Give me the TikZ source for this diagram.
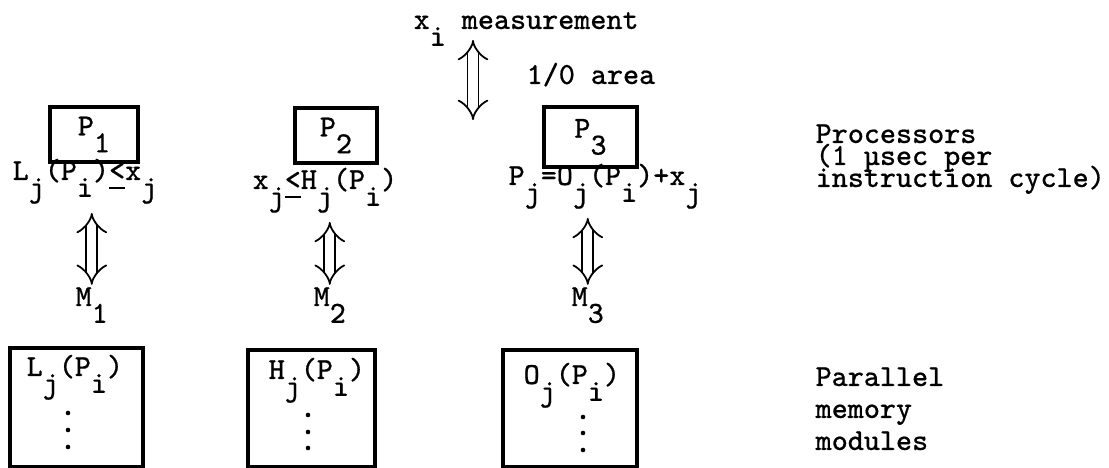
\documentclass[tikz,border=0pt]{standalone}
\usepackage{fontspec}
\setmonofont{Latin Modern Mono}[FakeBold=0.6]
\usetikzlibrary{arrows.meta}

\newcommand{\lowsub}[1]{\raisebox{-0.55em}{#1}}
\newcommand{\typedle}{\makebox[0pt][l]{\raisebox{-0.3em}{\rule{0.525em}{0.6pt}}}<}

\begin{document}
\begin{tikzpicture}[x=0.01cm, y=-0.01cm,
    every node/.style={inner sep=0pt, font=\ttfamily\fontsize{8.7}{10}\selectfont},
    typed/.style={anchor=base west},
    boxed/.style={draw, line width=0.9pt},
    dblarrow/.style={double, double distance=2.6pt, line width=0.5pt, {Implies}-{Implies}}]

    \useasboundingbox (0,0) rectangle (1109,468);

    % Measurement and I/O area
    \node[typed] (meas) at (413,29) {x\lowsub{i} measurement};
    \node[typed] (ioarea) at (526,84) {1/0 area};
    \coordinate (iotop) at (473,40);
    \coordinate (iobot) at (473,120);
    \draw[dblarrow] (iotop) -- (iobot);

    % Processors
    \node[boxed, minimum width=0.88cm, minimum height=0.55cm] (p1) at (94,134.5) {P\lowsub{1}};
    \node[boxed, minimum width=0.82cm, minimum height=0.55cm] (p2) at (336,135.5) {P\lowsub{2}};
    \node[boxed, minimum width=0.93cm, minimum height=0.60cm] (p3) at (590.5,137) {P\lowsub{3}};

    % What each processor computes
    \node[typed] (f1) at (12,180) {L\lowsub{j}(P\lowsub{i})\typedle x\lowsub{j}};
    \node[typed] (f2) at (252,189) {x\lowsub{j}\typedle H\lowsub{j}(P\lowsub{i})};
    \node[typed] (f3) at (508,185) {P\lowsub{j}=O\lowsub{j}(P\lowsub{i})+x\lowsub{j}};

    % Memory labels
    \node[typed] (m1) at (75,306) {M\lowsub{1}};
    \node[typed] (m2) at (313,306) {M\lowsub{2}};
    \node[typed] (m3) at (571,306) {M\lowsub{3}};

    % Processor to memory
    \draw[dblarrow, shorten <=2.4pt, shorten >=0.5pt] (f1.south -| m1.north) -- (m1.north);
    \draw[dblarrow, shorten <=2.4pt, shorten >=0.5pt] (f2.south -| m2.north) -- (m2.north);
    \draw[dblarrow, shorten <=2.4pt, shorten >=0.5pt] (f3.south -| m3.north) -- (m3.north);

    % Memory modules
    \node[boxed, minimum width=1.33cm, minimum height=1.19cm] (mem1) at (76.5,407.5) {};
    \node[typed] (mem1txt) at (26,376) {L\lowsub{j}(P\lowsub{i})};
    \foreach \yd in {413,430,447} \fill (68,\yd) circle (2.3);

    \node[boxed, minimum width=1.27cm, minimum height=1.17cm] (mem2) at (311.5,408.5) {};
    \node[typed] (mem2txt) at (268,379) {H\lowsub{j}(P\lowsub{i})};
    \foreach \yd in {415,432,448} \fill (308,\yd) circle (2.3);

    \node[boxed, minimum width=1.34cm, minimum height=1.17cm] (mem3) at (570,408.5) {};
    \node[typed] (mem3txt) at (523,384) {O\lowsub{j}(P\lowsub{i})};
    \foreach \yd in {417,433,450} \fill (583,\yd) circle (2.3);

    % Captions on the right
    \foreach \ln/\txt in {0/Processors, 1/(1 µsec per, 2/instruction cycle)}
        \node[typed] (proc\ln) at (815,{143+22*\ln}) {\txt};
    \foreach \ln/\txt in {0/Parallel, 1/memory, 2/modules}
        \node[typed] (mod\ln) at (815,{386+32*\ln}) {\txt};

\end{tikzpicture}
\end{document}
